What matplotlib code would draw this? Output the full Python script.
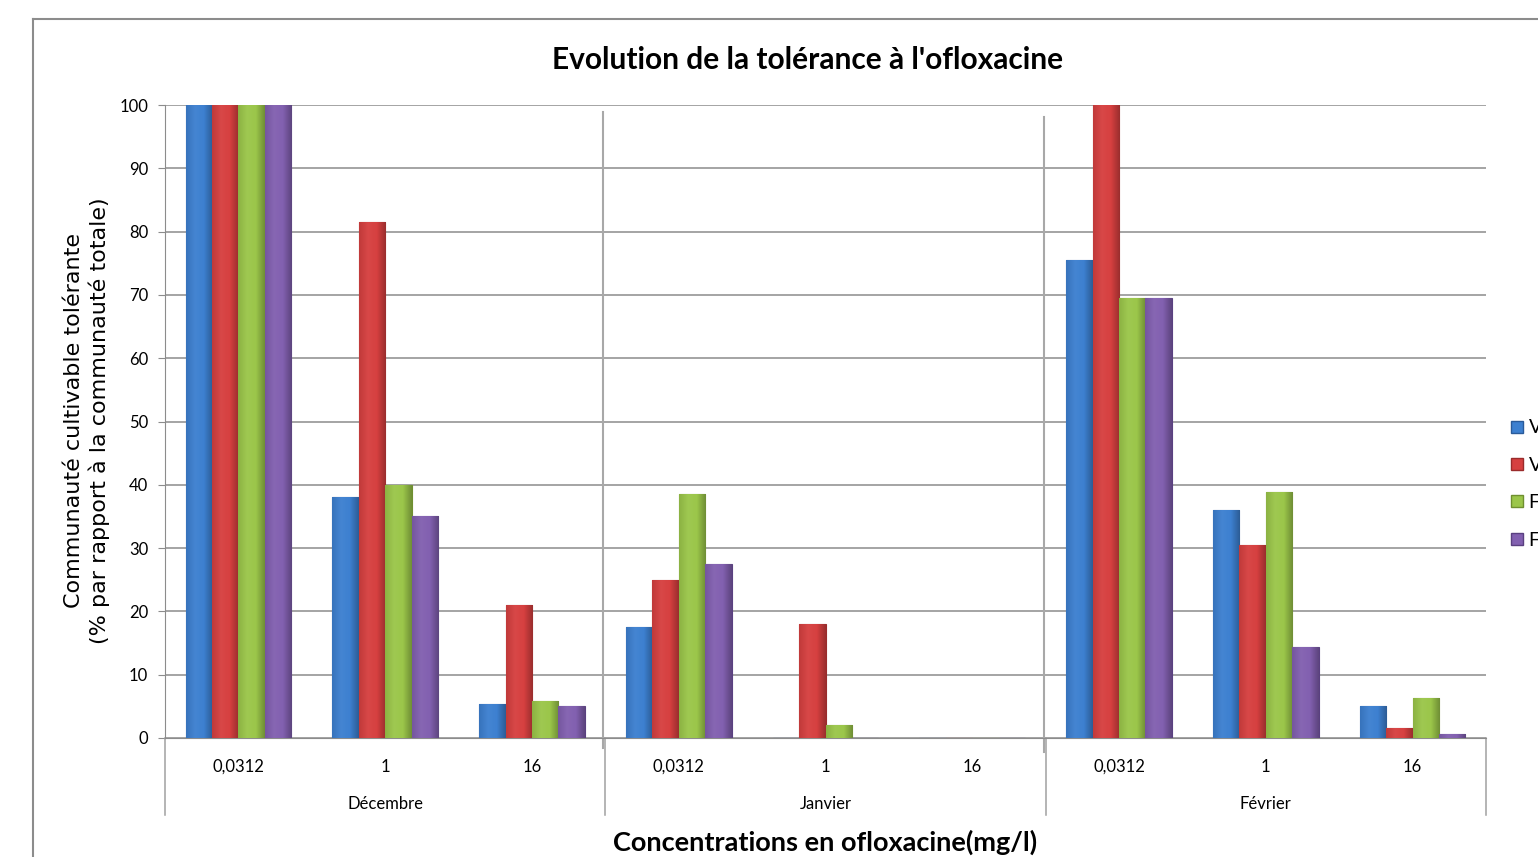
import numpy as np
import matplotlib.pyplot as plt
from matplotlib import font_manager
from matplotlib.lines import Line2D
from matplotlib.colors import LinearSegmentedColormap, to_rgb

# données : % de communauté cultivable tolérante
months = ['Décembre', 'Janvier', 'Février']
concentrations = ['0,0312', '1', '16']
series_names = ['V1', 'V2', 'F1', 'F2']

v1 = [100, 38.0, 5.3, 17.5, 0, 0, 75.5, 36.0, 5.0]
v2 = [100, 81.5, 21.0, 25.0, 18.0, 0, 100, 30.5, 1.6]
f1 = [100, 40.0, 5.8, 38.5, 2.0, 0, 69.5, 38.8, 6.3]
f2 = [100, 35.0, 5.0, 27.5, 0, 0, 69.5, 14.3, 0.7]

colors = ['#3d80d0', '#d64040', '#9bc64a', '#8260b0']
edges = ['#2a5b9a', '#9a2b2b', '#6f8f30', '#5a4080']


def pick(*names):
    avail = {f.name for f in font_manager.fontManager.ttflist}
    for n in names:
        if n in avail:
            return n
    return 'DejaVu Sans'


def shade(c, f):
    r = np.array(to_rgb(c))
    return tuple(r * f) if f < 1 else tuple(r + (1 - r) * (f - 1))


boldfont = pick('Liberation Sans Narrow', 'Lato', 'Open Sans')
tickfont = pick('Lato', 'Open Sans', 'DejaVu Sans')

fig = plt.figure(figsize=(15.38, 8.57), dpi=100)
ax = fig.add_axes([165 / 1538, 1 - 738 / 857, 1321 / 1538, 633 / 857])

n_cat = len(months) * len(concentrations)
x = np.arange(n_cat)
w = 0.18
all_series = [v1, v2, f1, f2]
grad = np.linspace(0, 1, 64).reshape(1, -1)
for i, vals in enumerate(all_series):
    bars = ax.bar(x + (i - 1.5) * w, vals, width=w, color=colors[i],
                  edgecolor=edges[i], linewidth=0.8, zorder=3)
    # léger dégradé horizontal pour l'effet relief
    cmap = LinearSegmentedColormap.from_list(
        'b%d' % i, [shade(colors[i], 0.9), shade(colors[i], 1.04),
                    colors[i], shade(colors[i], 0.72)])
    for b in bars:
        if b.get_height() <= 0:
            continue
        x0, y0 = b.get_x(), b.get_y()
        im = ax.imshow(grad, cmap=cmap, aspect='auto', zorder=3.1,
                       extent=[x0, x0 + b.get_width(), y0, y0 + b.get_height()])
        im.set_clip_path(b)

ax.set_xlim(-0.5, n_cat - 0.5)
ax.set_ylim(0, 100)
ax.set_yticks(np.arange(0, 101, 10))
ax.yaxis.grid(True, color='#8c8c8c', linewidth=1.1, zorder=0)
ax.set_axisbelow(True)
for side in ['top', 'right']:
    ax.spines[side].set_visible(False)
ax.spines['left'].set_color('#8c8c8c')
ax.spines['bottom'].set_color('#8c8c8c')
ax.tick_params(axis='y', length=5, color='#8c8c8c', labelsize=12, pad=7)
for lab in ax.get_yticklabels():
    lab.set_fontfamily(tickfont)

ax.set_xticks(x)
ax.set_xticklabels(concentrations * len(months), fontsize=12, fontfamily=tickfont)
ax.tick_params(axis='x', length=0, pad=15)

# second niveau de l'axe : les mois
tr = ax.get_xaxis_transform()
for k in range(len(months) + 1):
    xx = k * 3 - 0.5
    ax.plot([xx, xx], [0, -0.122], transform=tr, color='#a0a0a0',
            linewidth=1.1, clip_on=False)
for k, m in enumerate(months):
    ax.text(k * 3 + 1, -0.105, m, transform=tr, ha='center', va='center',
            fontsize=12, fontfamily=tickfont)

# séparateurs entre les mois
ax.plot([2.485, 2.485], [-1.6, 98.9], color='#a8a8a8', linewidth=1.5,
        clip_on=False, zorder=2)
ax.plot([5.49, 5.49], [-2.2, 98.1], color='#a8a8a8', linewidth=1.5,
        clip_on=False, zorder=2)

fig.text(808 / 1538, 1 - 60 / 857, "Evolution de la tolérance à l'ofloxacine",
         ha='center', va='center', fontsize=21.5, fontweight='bold',
         fontfamily=boldfont)
fig.text(825 / 1538, 1 - 842 / 857, 'Concentrations en ofloxacine(mg/l)',
         ha='center', va='center', fontsize=19.5, fontweight='bold',
         fontfamily=boldfont)
fig.text(87 / 1538, 1 - 421 / 857,
         'Communauté cultivable tolérante\n(% par rapport à la communauté totale)',
         ha='center', va='center', rotation=90, fontsize=16,
         linespacing=1.25, fontfamily='DejaVu Sans')

# cadre du graphique
fig.add_artist(Line2D([33 / 1538, 33 / 1538], [0, 1 - 19 / 857],
                      transform=fig.transFigure, color='#8c8c8c', linewidth=1.5))
fig.add_artist(Line2D([33 / 1538, 1], [1 - 19 / 857, 1 - 19 / 857],
                      transform=fig.transFigure, color='#8c8c8c', linewidth=1.5))

handles = [plt.Line2D([], [], marker='s', linestyle='', markersize=9,
                      markerfacecolor=colors[i], markeredgecolor=edges[i])
           for i in range(4)]
fig.legend(handles, series_names, loc='center left',
           bbox_to_anchor=(1510 / 1538, 1 - 484 / 857), frameon=False,
           borderpad=0, borderaxespad=0, handlelength=0.7,
           handletextpad=0.25, labelspacing=1.05,
           prop={'family': tickfont, 'size': 14})

fig.savefig('out.png', dpi=100, facecolor='white')
